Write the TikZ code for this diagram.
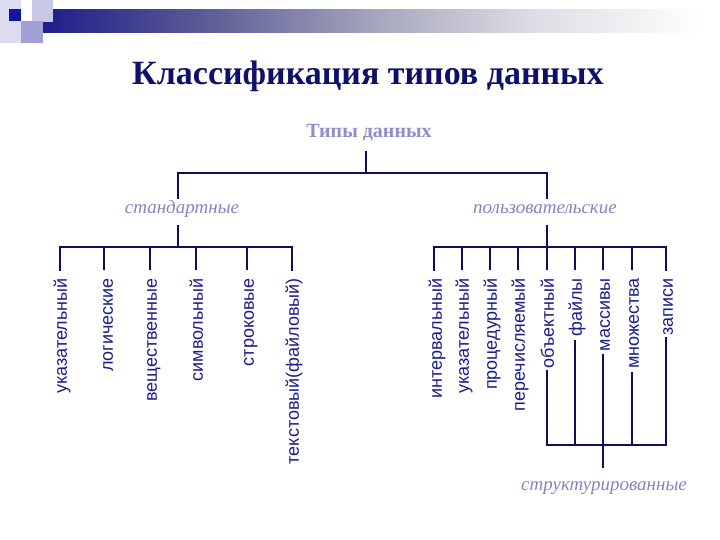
\documentclass[tikz,border=0pt]{standalone}
\usepackage{fontspec}
\setmainfont{Liberation Serif}
\newfontfamily\leaffont{Liberation Sans}
\definecolor{linenavy}{HTML}{0F0F5F}
\definecolor{titlenavy}{HTML}{10106A}
\definecolor{leafblue}{HTML}{1C1C8C}
\definecolor{rootlav}{HTML}{8E8EC8}
\definecolor{itallav}{HTML}{8484C0}
\definecolor{barA}{HTML}{1E1E8A}
\definecolor{barB}{HTML}{5A5A96}
\definecolor{barC}{HTML}{A4A4BC}
\definecolor{barD}{HTML}{DCDCE4}
\definecolor{sqdark}{HTML}{1414A0}
\definecolor{sqmed}{HTML}{A0A0D4}
\definecolor{sqlight}{HTML}{C8C8E6}
\definecolor{sqpale}{HTML}{DCDCF0}
\pgfdeclarehorizontalshading{barshade}{100bp}{color(0bp)=(barA); color(25bp)=(barA); color(37bp)=(barB); color(50bp)=(barC); color(62bp)=(barD); color(75bp)=(white); color(100bp)=(white)}
\tikzset{
  conn/.style={draw=linenavy, line width=2.8pt},
  leaf/.style={rotate=90, anchor=east, inner sep=0pt,
    font=\leaffont\fontsize{18}{18}\selectfont, text=leafblue,
    text height=0.55em, text depth=0.2em},
  catlabel/.style={inner sep=0pt, minimum height=27pt,
    font=\itshape\fontsize{19}{19}\selectfont, text=itallav,
    text height=0.5em, text depth=0pt},
}
\begin{document}
\begin{tikzpicture}[x=1pt, y=-1pt]
\useasboundingbox (0,0) rectangle (720,540);
% header decoration
\fill[shading=barshade] (43,10) rectangle (700,33);
\fill[sqpale] (0,0) rectangle (21,43);
\fill[sqlight] (32,0) rectangle (53,22);
\fill[sqmed] (21,21) rectangle (43,43);
\fill[sqdark] (9,9) rectangle (21,21);
% title
\node[anchor=base, inner sep=0pt, font=\bfseries\fontsize{34}{34}\selectfont, text=titlenavy] (title) at (368,85) {Классификация типов данных};
% root and categories
\node[inner sep=0pt, minimum height=34pt, font=\bfseries\fontsize{20}{20}\selectfont, text=rootlav, text height=0.66em, text depth=0pt] (root) at (369,134) {Типы данных};
\node[catlabel] (std) at (182,211) {стандартные};
\node[catlabel] (usr) at (545,211) {пользовательские};
\node[catlabel, minimum height=40pt] (str) at (604,488) {структурированные};
% junctions
\coordinate (j0) at (366,173);
\coordinate (jl) at (178,173);
\coordinate (jr) at (547,173);
\coordinate (bl) at (178,247);
\coordinate (br) at (547,247);
% left leaves
\coordinate (a1) at (60,247);
\coordinate (a2) at (104,247);
\coordinate (a3) at (150,247);
\coordinate (a4) at (196,247);
\coordinate (a5) at (247,247);
\coordinate (a6) at (292,247);
\node[leaf] (L1) at (65,278) {указательный};
\node[leaf] (L2) at (111,278) {логические};
\node[leaf] (L3) at (155,278) {вещественные};
\node[leaf] (L4) at (201,278) {символьный};
\node[leaf] (L5) at (252,278) {строковые};
\node[leaf] (L6) at (297,278) {текстовый(файловый)};
% right leaves
\coordinate (b1) at (434,247);
\coordinate (b2) at (462,247);
\coordinate (b3) at (490,247);
\coordinate (b4) at (518,247);
\coordinate (b5) at (547,247);
\coordinate (b6) at (575,247);
\coordinate (b7) at (603,247);
\coordinate (b8) at (632,247);
\coordinate (b9) at (666,247);
\node[leaf] (R1) at (440,278) {интервальный};
\node[leaf] (R2) at (467,278) {указательный};
\node[leaf] (R3) at (495,278) {процедурный};
\node[leaf] (R4) at (523,278) {перечисляемый};
\node[leaf] (R5) at (552,278) {объектный};
\node[leaf] (R6) at (580,278) {файлы};
\node[leaf] (R7) at (608,278) {массивы};
\node[leaf] (R8) at (637,278) {множества};
\node[leaf] (R9) at (671,278) {записи};
\coordinate (sb) at (603,445);
% connectors
\draw[conn] (j0 |- root.south) -- (j0);
\draw[conn, line cap=rect] (jl |- std.north) -- (jl) -- (jr) -- (jr |- usr.north);
\draw[conn] (jl |- std.south) -- (bl);
\draw[conn] (jr |- usr.south) -- (br);
\draw[conn, line cap=rect] (a1 |- L1.east) ++(0,-8) -- (a1) -- (a6) -- ++(0,23);
\foreach \t/\n in {a2/L2,a3/L3,a4/L4,a5/L5}{
  \draw[conn, shorten >=8pt] (\t) -- (\t |- \n.east);
}
\draw[conn, line cap=rect] (b1) ++(0,23) -- (b1) -- (b9) -- ++(0,23);
\foreach \t/\n in {b2/R2,b3/R3,b4/R4,b5/R5,b6/R6,b7/R7,b8/R8}{
  \draw[conn, shorten >=8pt] (\t) -- (\t |- \n.east);
}
% structured group
\draw[conn, line cap=rect, shorten <=3pt, shorten >=3pt] (b5 |- R5.west) -- (b5 |- sb) -- (b9 |- sb) -- (b9 |- R9.west);
\foreach \t/\n in {b6/R6,b7/R7,b8/R8}{
  \draw[conn, shorten <=3pt] (\t |- \n.west) -- (\t |- sb);
}
\draw[conn] (sb) -- (sb |- str.north);
\end{tikzpicture}
\end{document}
